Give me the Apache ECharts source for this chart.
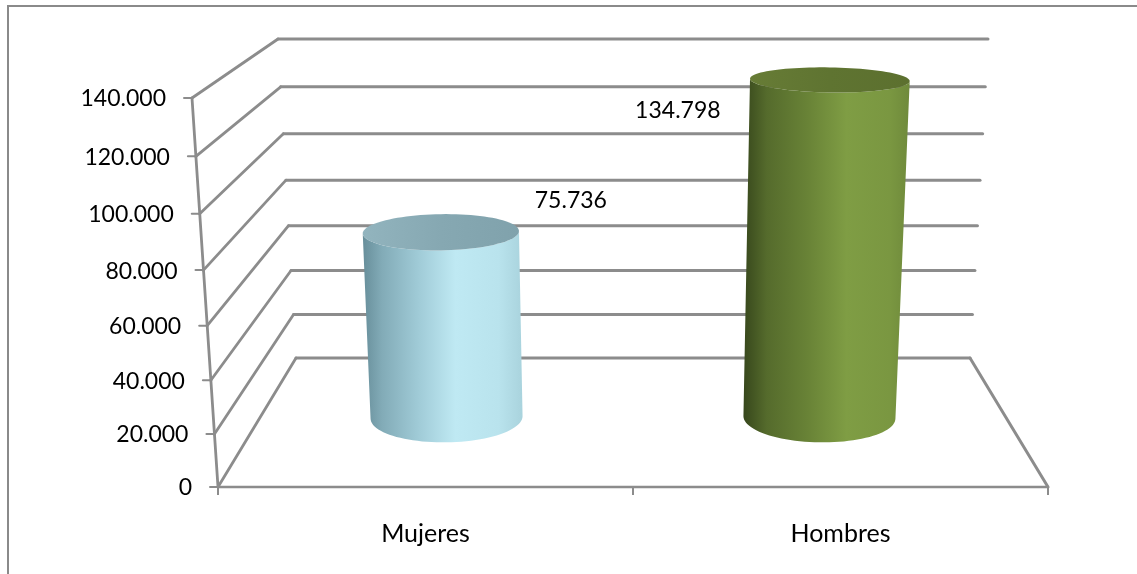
<!DOCTYPE html>
<html>
<head>
<meta charset="utf-8">
<title>Mujeres / Hombres</title>
<script src="https://cdn.jsdelivr.net/npm/echarts@6/dist/echarts.min.js"></script>
<style>
  html, body { margin: 0; padding: 0; background: #fff; }
  #chart { width: 1137px; height: 574px; overflow: hidden; }
</style>
</head>
<body>
<div id="chart"></div>
<script>
const categories = ['Mujeres', 'Hombres']
const values = [75736, 134798]
const yTicks = [0, 20000, 40000, 60000, 80000, 100000, 120000, 140000]
const yTickLabels = ['0', '20.000', '40.000', '60.000', '80.000', '100.000', '120.000', '140.000']

const FONT = 'Lato'
const LINE = '#8c8c8c'
const TEXT = '#000000'

// box depth: 0 = front plane (the real grid), 1 = back wall
const CYL_DEPTH = 0.54
const FLOOR_DX = 78, FLOOR_DY = 129, HEIGHT_LOSS = 70, LEAN_FRONT = 26, LEAN_BACK = 18
const PERSPECTIVE = 0.058

// per cylinder look, label offsets are from the centre of the lid
const cylStyles = [
  {
    body: [[0, '#678e9a'], [0.12, '#82abb7'], [0.35, '#a0cbd7'], [0.58, '#bfe9f3'], [0.85, '#b9e3ed'], [1, '#a9d3dd']],
    lid: [[0, '#92b4be'], [0.5, '#86a8b2'], [1, '#80a2ac']],
    label: [130, -32]
  },
  {
    body: [[0, '#37471c'], [0.14, '#556b2c'], [0.38, '#688236'], [0.62, '#7f9d44'], [0.88, '#7a9741'], [1, '#6f8a3b']],
    lid: [[0, '#677c36'], [0.5, '#5f7431'], [1, '#5c702f']],
    label: [-152, 31]
  }
]

// value -> position on a plane inside the 3d box, starts from the axis scale
function project(api, g, xFrac, v, depth) {
  const t = (g.y + g.height - api.coord([0, v])[1]) / g.height
  const f = t / (1 + PERSPECTIVE * (1 - t))
  const lean = LEAN_FRONT + (LEAN_BACK - LEAN_FRONT) * depth
  const left = g.x + FLOOR_DX * depth - lean * f
  const right = g.x + g.width - FLOOR_DX * depth + lean * f
  const floorY = g.y + g.height - FLOOR_DY * depth
  return { x: left + (right - left) * xFrac, y: floorY - (g.height - HEIGHT_LOSS * depth) * f, f: f }
}

function seg(a, b, width) {
  return {
    type: 'line',
    shape: { x1: a.x, y1: a.y, x2: b.x, y2: b.y },
    style: { stroke: LINE, lineWidth: width, lineCap: 'round' }
  }
}

// one tick: back wall line, side wall line, left edge, tick mark and its label
function renderTick(params, api) {
  const g = params.coordSys
  const i = params.dataIndex
  const v = api.value(1)
  const front = project(api, g, 0, v, 0)
  const back = project(api, g, 0, v, 1)
  const backRight = project(api, g, 1, v, 1)
  const children = [
    seg(front, back, 2.8),
    seg(back, backRight, 3),
    seg({ x: front.x - 8, y: front.y }, front, 2)
  ]
  if (i > 0) children.push(seg(project(api, g, 0, yTicks[i - 1], 0), front, 2.8))
  if (i === 0) children.push(seg(project(api, g, 1, v, 1), project(api, g, 1, v, 0), 3))
  children.push({
    type: 'text',
    style: {
      x: front.x - 26,
      y: front.y + 1,
      text: yTickLabels[i],
      align: 'right',
      verticalAlign: 'middle',
      font: '23px ' + FONT,
      fill: TEXT
    }
  })
  return { type: 'group', children: children }
}

function ellipsePoint(c, rx, ry, tilt, a) {
  const dx = rx * Math.cos(a)
  return [c.x + dx, c.y + ry * Math.sin(a) + dx * tilt]
}

function gradient(stops) {
  return new echarts.graphic.LinearGradient(0, 0, 1, 0, stops.map(s => ({ offset: s[0], color: s[1] })))
}

function renderCylinder(params, api) {
  const g = params.coordSys
  const i = params.dataIndex
  const style = cylStyles[i]
  const xFrac = (api.coord([api.value(0), 0])[0] - g.x) / g.width
  const base = project(api, g, xFrac, 0, CYL_DEPTH)
  const top = project(api, g, xFrac, api.value(1), CYL_DEPTH)
  const tilt = (xFrac - 0.5) * 0.06
  const rx = f => 76 + 4 * f
  const ry = f => 25 - 13 * f
  const STEPS = 48

  const bodyPts = []
  for (let k = 0; k <= STEPS; k++) {
    bodyPts.push(ellipsePoint(base, rx(0), ry(0), tilt, Math.PI - Math.PI * k / STEPS))
  }
  for (let k = 0; k <= STEPS; k++) {
    bodyPts.push(ellipsePoint(top, rx(top.f), ry(top.f), tilt, Math.PI * k / STEPS))
  }
  const lidPts = []
  for (let k = 0; k < STEPS * 2; k++) {
    lidPts.push(ellipsePoint(top, rx(top.f), ry(top.f), tilt, Math.PI * k / STEPS))
  }

  return {
    type: 'group',
    children: [
      { type: 'polygon', shape: { points: bodyPts }, style: { fill: gradient(style.body) } },
      { type: 'polygon', shape: { points: lidPts }, style: { fill: gradient(style.lid) } },
      {
        type: 'text',
        style: {
          x: top.x + style.label[0],
          y: top.y + style.label[1],
          text: api.value(1).toLocaleString('de-DE'),
          align: 'center',
          verticalAlign: 'middle',
          font: '23px ' + FONT,
          fill: TEXT
        }
      }
    ]
  }
}

const chart = echarts.init(document.getElementById('chart'))
chart.setOption({
  animation: false,
  backgroundColor: '#ffffff',
  grid: { left: 218, top: 98, width: 830, height: 389 },
  xAxis: {
    type: 'category',
    data: categories,
    axisLine: { lineStyle: { color: LINE, width: 2.4 } },
    axisTick: { show: true, length: 8, lineStyle: { color: LINE, width: 2 } },
    axisLabel: { margin: 34, fontFamily: FONT, fontSize: 25, color: TEXT },
    splitLine: { show: false }
  },
  yAxis: {
    type: 'value',
    min: 0,
    max: 140000,
    interval: 20000,
    show: false
  },
  // frame is cut by the right and bottom of the picture
  graphic: [{
    type: 'polyline',
    shape: { points: [[8, 574], [8, 6], [1137, 6]] },
    style: { stroke: '#8a8a8a', lineWidth: 2, fill: null }
  }],
  series: [
    {
      type: 'custom',
      z: 2,
      clip: false,
      renderItem: renderTick,
      encode: { x: 0, y: 1 },
      data: yTicks.map(v => [0, v])
    },
    {
      type: 'custom',
      z: 3,
      clip: false,
      renderItem: renderCylinder,
      encode: { x: 0, y: 1 },
      data: values.map((v, i) => [i, v])
    }
  ]
})
</script>
</body>
</html>
